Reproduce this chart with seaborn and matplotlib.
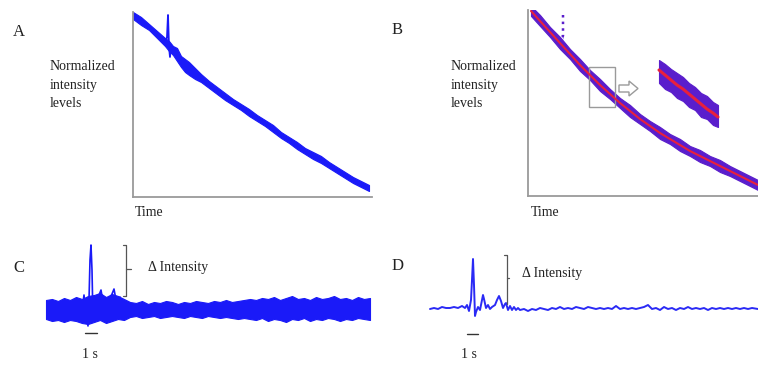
import numpy as np
import matplotlib
matplotlib.use("Agg")
import matplotlib.pyplot as plt
from matplotlib.patches import FancyArrow, Rectangle
import seaborn as sns

# ---- panel A: decay trace (time, upper / lower edge of noisy band), a.u.
a_time = [0, 8, 16, 24, 32, 36, 40, 44, 48, 52, 56, 62, 68, 76, 84, 92, 100,
          108, 116, 124, 132, 140, 148, 156, 164, 172, 180, 188, 196, 204,
          212, 220, 228, 236]
a_upper = [185, 180, 173, 166, 159, 156, 151, 149, 141, 138, 135, 129, 123,
           116, 110, 104, 98, 93, 88, 82, 77, 72, 65, 60, 55, 49, 45, 41, 35,
           30, 25, 20, 16, 12]
a_lower = [178, 172, 167, 159, 151, 146, 142, 136, 130, 125, 122, 118, 115,
           109, 103, 97, 92, 87, 81, 76, 71, 65, 59, 54, 48, 43, 38, 34, 29,
           24, 19, 14, 10, 6]
a_spike_t = [33, 34, 35, 36, 37, 38]
a_spike_v = [156, 160, 182, 150, 140, 152]

# ---- panel B: decay trace with fitted curve
b_time = [3, 12, 22, 32, 42, 52, 62, 72, 82, 92, 102, 112, 122, 132, 142,
          152, 162, 172, 182, 192, 202, 212, 222, 230]
b_fit = [185, 175, 164, 153, 142, 131, 121, 111, 102, 93, 85, 77, 70, 63, 57,
         51, 45, 40, 35, 30, 25, 20, 15, 11]
b_upper = [190, 181, 169, 159, 147, 137, 126, 117, 107, 98, 91, 82, 75, 69,
           62, 57, 50, 46, 40, 36, 30, 25, 20, 16]
b_lower = [180, 170, 159, 147, 137, 125, 116, 105, 97, 88, 79, 72, 65, 57,
           52, 45, 40, 34, 30, 24, 20, 15, 10, 6]
b_spike_t = [35, 35, 33, 36]
b_spike_v = [181, 160, 158, 158]
# magnified view
z_time = [131, 137, 143, 149, 155, 161, 167, 173, 179, 185, 190]
z_fit = [126, 121, 116, 111, 107, 102, 97, 92, 87, 83, 79]
z_upper = [136, 132, 127, 123, 119, 113, 109, 103, 100, 94, 91]
z_lower = [113, 107, 104, 98, 95, 89, 86, 79, 77, 71, 69]

# ---- panel C: noisy delta trace
c_time = np.arange(0, 325, 6)
c_upper = [40, 41, 39, 42, 40, 43, 41, 44,
           45, 47, 43, 46, 44, 41,
           38, 37, 39, 36, 38, 37, 39, 38, 36, 38, 37, 39, 38, 37, 39, 38, 40,
           38, 39, 40,
           41, 40, 42, 41, 43, 40, 42, 44, 41, 42, 40, 43, 41, 42, 44, 41, 42,
           40, 43, 41, 42]
c_lower = [21, 19, 20, 18, 20, 19, 17, 16,
           18, 20, 17, 19, 21, 20,
           23, 24, 22, 23, 24, 22, 23, 24, 23, 22, 24, 23, 22, 24, 23, 22, 23,
           22, 21, 22,
           21, 20, 22, 19, 21, 20, 18, 21, 20, 22, 19, 21, 20, 22, 21, 19, 21,
           20, 22, 21, 20]
c_spike_t = [36, 38, 40, 42, 43, 44, 45, 46, 47, 48, 50, 53, 55, 57, 60, 63,
             66, 68, 70, 72, 74, 76, 78]
c_spike_v = [30, 45, 25, 14, 40, 80, 95, 70, 20, 30, 35, 45, 50, 38, 30, 40,
             46, 51, 40, 32, 43, 36, 30]

# ---- panel D: filtered delta trace
d_time = [0, 4, 8, 12, 16, 20, 24, 28, 32, 35, 37, 39, 41, 42, 43, 44, 45, 46,
          48, 50, 52, 53, 54, 56, 58, 60, 62, 65, 67, 69, 71, 73, 75, 76, 78,
          80, 82, 84, 86, 88, 90, 94, 98, 102, 106] + list(range(110, 323, 4)) + [328]
d_value = [31, 32, 31, 33, 32, 32, 33, 32, 34,
           32, 35, 29, 40, 60, 81, 55, 24, 28,
           33, 30, 40, 45, 41, 32, 35, 31, 33,
           35, 40, 44, 39, 32, 36, 37, 30, 34,
           30, 33, 30, 32, 30, 31, 29, 31, 30,
           32, 31, 30, 32, 31, 33, 31, 32, 31, 33,
           32, 31, 33, 32, 31, 32, 31, 32, 31, 34,
           31, 32, 31, 32, 31, 32, 33, 35, 31, 32,
           30, 33, 31, 32, 30, 32, 31, 33, 31, 32,
           31, 32, 30, 32, 31, 32, 31, 32, 31, 32,
           31, 32, 31, 32, 31]

W, H = 758, 366
BLUE = "#1a1af8"
PURPLE = "#5a1ecc"
RED = "#e8203c"
GREY = "#9a9a9a"


def panel(fig, x1, y1, x2, y2, ox, oy):
    ax = fig.add_axes([x1 / W, 1 - y2 / H, (x2 - x1) / W, (y2 - y1) / H])
    ax.set_xlim(x1 - ox, x2 - ox)
    ax.set_ylim(oy - y2, oy - y1)
    ax.set_xticks([])
    ax.set_yticks([])
    for s in ax.spines.values():
        s.set_visible(False)
    ax.patch.set_alpha(0)
    return ax


def axis_lines(ax):
    for side in ("left", "bottom"):
        ax.spines[side].set_visible(True)
        ax.spines[side].set_color(GREY)
        ax.spines[side].set_linewidth(1.3)


def txt(fig, x, y, s, **kw):
    fig.text(x / W, 1 - y / H, s, **kw)


def line(ax, x, y, **kw):
    sns.lineplot(x=x, y=y, ax=ax, sort=False, estimator=None, **kw)


def main():
    sns.set_theme(style="white")
    plt.rcParams['font.family'] = ['Liberation Serif', 'DejaVu Serif']
    fig = plt.figure(figsize=(W / 100, H / 100), dpi=100)

    # A
    ax = panel(fig, 133, 12, 372, 197, 133, 197)
    axis_lines(ax)
    ax.fill_between(a_time, a_lower, a_upper, color=BLUE, lw=0.8)
    line(ax, a_spike_t, a_spike_v, color=BLUE, lw=1.3)

    # B
    ax = panel(fig, 528, 10, 758, 196, 528, 196)
    axis_lines(ax)
    ax.fill_between(b_time, b_lower, b_upper, color=PURPLE, lw=0.8)
    line(ax, b_time, b_fit, color=RED, lw=1.5)
    line(ax, b_spike_t, b_spike_v, color=PURPLE, lw=1.8, linestyle=":")
    ax.add_patch(Rectangle((61, 89), 26, 40, fill=False, ec=GREY, lw=1.0))
    ax.add_patch(FancyArrow(91, 107.5, 19, 0, width=7, head_width=15,
                            head_length=9, length_includes_head=True,
                            fc="white", ec=GREY, lw=1.0))
    ax.fill_between(z_time, z_lower, z_upper, color=PURPLE, lw=0.8)
    line(ax, z_time, z_fit, color=RED, lw=2.2)

    # C
    ax = panel(fig, 40, 236, 380, 366, 46, 340)
    ax.fill_between(c_time, c_lower, c_upper, color=BLUE, lw=0.8)
    line(ax, c_spike_t, c_spike_v, color=BLUE, lw=1.2)
    top, bottom = max(c_spike_v), 44
    line(ax, [77, 80, 80, 77], [top, top, bottom, bottom], color="#555555", lw=0.9)
    line(ax, [80, 85], [71, 71], color="#555555", lw=0.9)
    line(ax, [39, 51], [7, 7], color="#333333", lw=1.0)

    # D
    ax = panel(fig, 425, 236, 758, 366, 430, 340)
    line(ax, d_time, d_value, color="#2a2af5", lw=1.4)
    top, bottom = 85, 36
    line(ax, [74, 77, 77], [top, top, bottom], color="#555555", lw=0.9)
    line(ax, [77, 79], [62, 62], color="#555555", lw=0.9)
    line(ax, [37, 48], [6, 6], color="#333333", lw=1.0)

    # text
    k = dict(color="#222222")
    txt(fig, 13, 32, "A", fontsize=12, va="center", **k)
    txt(fig, 392, 30, "B", fontsize=12, va="center", **k)
    txt(fig, 13, 268, "C", fontsize=12, va="center", **k)
    txt(fig, 392, 266, "D", fontsize=12, va="center", **k)
    lab = "Normalized\nintensity\nlevels"
    txt(fig, 50, 60, lab, fontsize=10, va="top", linespacing=1.55, **k)
    txt(fig, 451, 60, lab, fontsize=10, va="top", linespacing=1.55, **k)
    txt(fig, 135, 213, "Time", fontsize=10, va="center", **k)
    txt(fig, 531, 213, "Time", fontsize=10, va="center", **k)
    txt(fig, 148, 268, "\u0394 Intensity", fontsize=10, va="center", **k)
    txt(fig, 522, 273, "\u0394 Intensity", fontsize=10, va="center", **k)
    txt(fig, 90, 355, "1 s", fontsize=10, va="center", ha="center", **k)
    txt(fig, 469, 355, "1 s", fontsize=10, va="center", ha="center", **k)

    fig.savefig("out.png", dpi=100)


if __name__ == '__main__':
    main()
